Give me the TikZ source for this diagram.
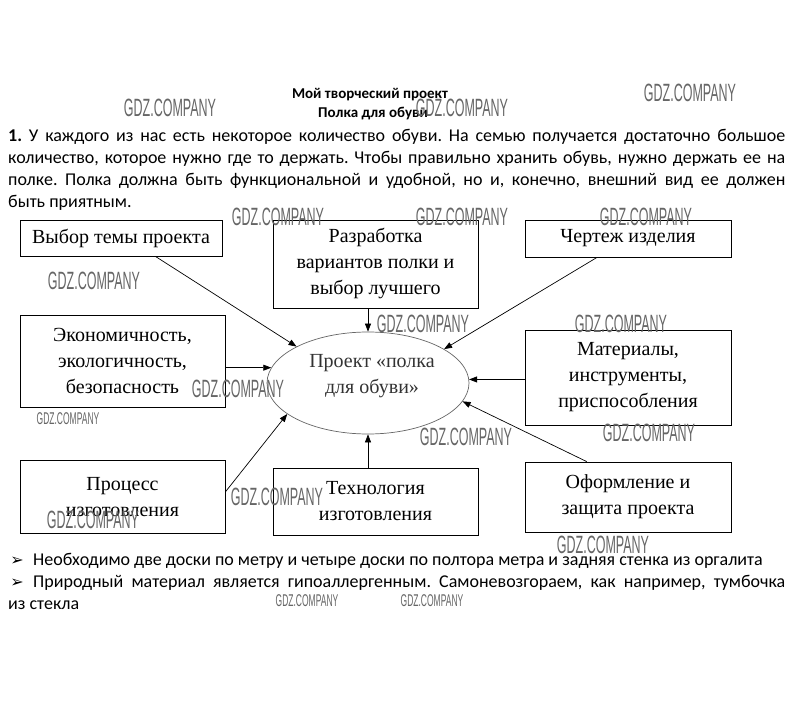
\documentclass[tikz,border=0pt]{standalone}
\usepackage{graphicx}
\usepackage{fontspec}
\setmainfont{Liberation Serif}
\newfontfamily\calib{Carlito}
\newfontfamily\wmfont{Liberation Sans}
\newfontfamily\dejavu{DejaVu Sans}
\usetikzlibrary{arrows.meta,shapes.geometric,calc}
\frenchspacing
\begin{document}
\begin{tikzpicture}[x=1pt,y=-1pt,
 box/.style={draw=black,line width=0.9pt,align=center,inner sep=0pt,font=\fontsize{20}{26}\selectfont},
 arr/.style={-{Triangle[length=8pt,width=6pt]},line width=0.7pt},
 wm/.style={text=black!60,inner sep=0pt,font=\wmfont\fontsize{25}{25}\selectfont},
 wms/.style={text=black!60,inner sep=0pt,font=\wmfont\fontsize{17}{17}\selectfont},
 ptext/.style={anchor=base west,inner sep=0pt,font=\calib\fontsize{18}{20}\selectfont},
 bull/.style={anchor=base,inner sep=0pt,font=\dejavu\fontsize{16}{16}\selectfont}]
\useasboundingbox[fill=white] (0,0) rectangle (809,727);

% title
\node[anchor=base,inner sep=0pt,font=\calib\bfseries\fontsize{15}{17}\selectfont] (t1) at (370,99) {Мой творческий проект};
\node[anchor=base,inner sep=0pt,font=\calib\bfseries\fontsize{15}{17}\selectfont] (t2) at (373,118) {Полка для обуви};

% paragraph
\node[ptext] (p1) at (8,142) {\makebox[777pt][s]{\textbf{1.} У каждого из нас есть некоторое количество обуви. На семью получается достаточно большое}};
\node[ptext] (p2) at (8,164) {\makebox[777pt][s]{количество, которое нужно где то держать. Чтобы правильно хранить обувь, нужно держать ее на}};
\node[ptext] (p3) at (8,186) {\makebox[777pt][s]{полке. Полка должна быть функциональной и удобной, но и, конечно, внешний вид ее должен}};
\node[ptext] (p4) at (8,208) {быть приятным.};

% boxes
\node[box,minimum width=202pt,minimum height=36pt] (b1) at (121,238) {Выбор темы проекта};
\node[box,minimum width=205pt,minimum height=88pt] (b2) at (375.5,264) {Разработка\\вариантов полки и\\выбор лучшего};
\node[box,minimum width=206pt,minimum height=37pt] (b3) at (628,238.5) {Чертеж изделия};
\node[box,minimum width=205pt,minimum height=92pt] (b4) at (122.5,361) {Экономичность,\\экологичность,\\безопасность};
\node[box,minimum width=206pt,minimum height=95pt] (b5) at (628,377.5) {Материалы,\\инструменты,\\приспособления};
\node[box,minimum width=205pt,minimum height=73pt] (b6) at (122.5,497) {Процесс\\изготовления};
\node[box,minimum width=205pt,minimum height=67pt] (b7) at (375.5,501.5) {Технология\\изготовления};
\node[box,minimum width=206pt,minimum height=70pt] (b8) at (628,497) {Оформление и\\защита проекта};

% ellipse
\node[ellipse,draw=black!60,line width=0.7pt,minimum width=202pt,minimum height=102pt,inner sep=0pt] (e) at (368,383) {};
\node[align=center,inner sep=0pt,text=black!80,font=\fontsize{20}{26}\selectfont] (et) at (372,376) {Проект «полка\\для обуви»};

% connectors
\draw[arr] (e.north |- b2.south) -- (e.north);
\draw[arr] ($(b1.south west)!0.67!(b1.south east)$) -- (e.153);
\draw[arr] ($(b3.south west)!0.35!(b3.south east)$) -- (e.24);
\draw[arr] (b4.east |- e.171) -- (e.171);
\draw[arr] (b5.west |- e.2) -- (e.2);
\draw[arr] ($(b6.north east)!0.43!(b6.south east)$) -- (e.201);
\draw[arr] (e.south |- b7.north) -- (e.south);
\draw[arr] ($(b8.north west)!0.3!(b8.north east)$) -- (e.349);

% bullets
\node[bull] (k1) at (17,565) {➢};
\node[ptext] (q1) at (33,565) {Необходимо две доски по метру и четыре доски по полтора метра и задняя стенка из оргалита};
\node[bull] (k2) at (17,587) {➢};
\node[ptext] (q2) at (33,587) {\makebox[752pt][s]{Природный материал является гипоаллергенным. Самоневозгораем, как например, тумбочка}};
\node[ptext] (q3) at (8,609) {из стекла};

% watermarks
\node[wm] (w1) at (170,108) {\scalebox{0.5}[1]{GDZ.COMPANY}};
\node[wm] (w2) at (462,108) {\scalebox{0.5}[1]{GDZ.COMPANY}};
\node[wm] (w3) at (690,93) {\scalebox{0.5}[1]{GDZ.COMPANY}};
\node[wm] (w4) at (278,217) {\scalebox{0.5}[1]{GDZ.COMPANY}};
\node[wm] (w5) at (462,217) {\scalebox{0.5}[1]{GDZ.COMPANY}};
\node[wm] (w6) at (646,217) {\scalebox{0.5}[1]{GDZ.COMPANY}};
\node[wm] (w7) at (94,281) {\scalebox{0.5}[1]{GDZ.COMPANY}};
\node[wm] (w8) at (423,324) {\scalebox{0.5}[1]{GDZ.COMPANY}};
\node[wm] (w9) at (621,324) {\scalebox{0.5}[1]{GDZ.COMPANY}};
\node[wm] (w10) at (238,389) {\scalebox{0.5}[1]{GDZ.COMPANY}};
\node[wms] (w11) at (68,419) {\scalebox{0.5}[1]{GDZ.COMPANY}};
\node[wm] (w12) at (466,437) {\scalebox{0.5}[1]{GDZ.COMPANY}};
\node[wm] (w13) at (649,433) {\scalebox{0.5}[1]{GDZ.COMPANY}};
\node[wm] (w14) at (277,497) {\scalebox{0.5}[1]{GDZ.COMPANY}};
\node[wm] (w15) at (93,520) {\scalebox{0.5}[1]{GDZ.COMPANY}};
\node[wm] (w16) at (603,545) {\scalebox{0.5}[1]{GDZ.COMPANY}};
\node[wms] (w17) at (307,601) {\scalebox{0.5}[1]{GDZ.COMPANY}};
\node[wms] (w18) at (432,601) {\scalebox{0.5}[1]{GDZ.COMPANY}};
\end{tikzpicture}
\end{document}
